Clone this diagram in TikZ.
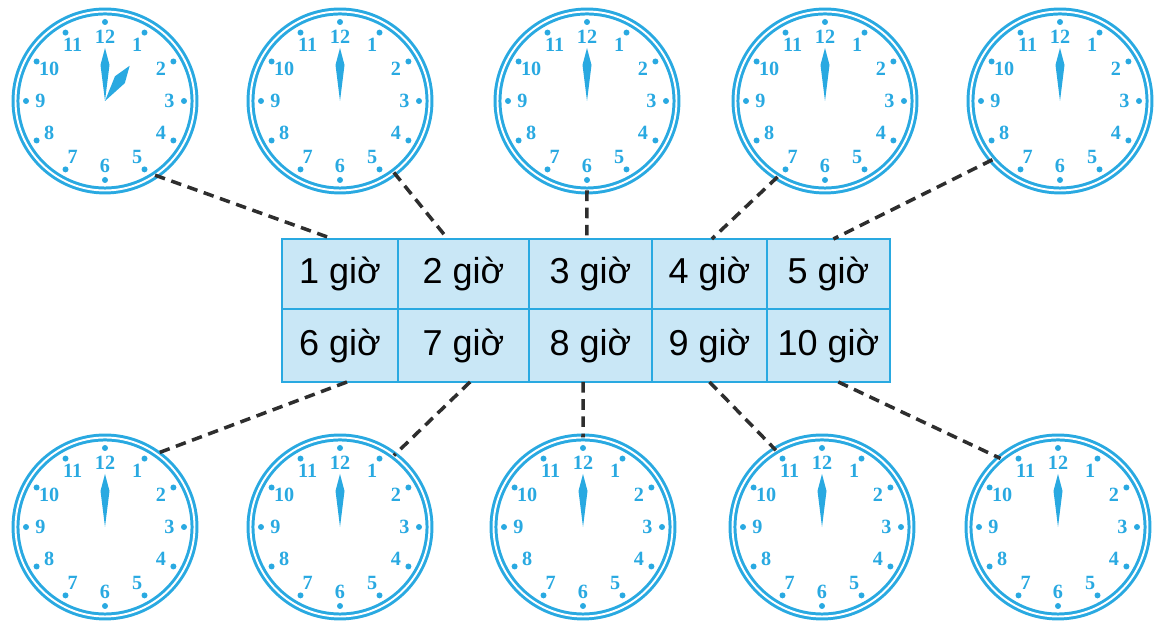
\documentclass[tikz,border=0pt]{standalone}
\usepackage{fontspec}
\setmainfont{Liberation Sans}
\newfontfamily\clockfont{Liberation Serif}
\usepackage{tikz}
\usetikzlibrary{positioning, calc}
\usepackage{xcolor}
\definecolor{clockBlue}{HTML}{29A9E1}
\definecolor{cellFill}{HTML}{C9E7F6}
\definecolor{lineDark}{HTML}{2E2E2E}

\begin{document}
\begin{tikzpicture}[
    font=\fontsize{20.5}{24}\selectfont,
    cell/.style={
      rectangle, draw=clockBlue, line width=1.2pt,
      fill=cellFill, align=center, outer sep=0pt,
      minimum height=1.40cm, inner sep=0pt
    },
    clock/.style={
      circle, draw=clockBlue, line width=1.7pt,
      double=white, double distance=1.1pt,
      minimum size=3.58cm, outer sep=0pt, inner sep=0pt
    },
    hournum/.style={
      font=\clockfont\bfseries\fontsize{11.5}{13}\selectfont,
      text=clockBlue, inner sep=0pt
    },
    arrDashed/.style={lineDark, line width=2pt, dash pattern=on 6pt off 3.8pt}
  ]
  \useasboundingbox (0,0) rectangle (23.08,12.48);

  % Bảng giờ - hàng trên
  \node[cell, minimum width=2.32cm] (h1) at (6.80,7.00) {1 giờ};
  \node[cell, minimum width=2.62cm, right=0pt of h1] (h2) {2 giờ};
  \node[cell, minimum width=2.46cm, right=0pt of h2] (h3) {3 giờ};
  \node[cell, minimum width=2.30cm, right=0pt of h3] (h4) {4 giờ};
  \node[cell, minimum width=2.46cm, right=0pt of h4] (h5) {5 giờ};

  % Bảng giờ - hàng dưới
  \node[cell, minimum width=2.32cm, minimum height=1.46cm, below=0pt of h1] (r1) {6 giờ};
  \node[cell, minimum width=2.62cm, minimum height=1.46cm, below=0pt of h2] (r2) {7 giờ};
  \node[cell, minimum width=2.46cm, minimum height=1.46cm, below=0pt of h3] (r3) {8 giờ};
  \node[cell, minimum width=2.30cm, minimum height=1.46cm, below=0pt of h4] (r4) {9 giờ};
  \node[cell, minimum width=2.46cm, minimum height=1.46cm, below=0pt of h5] (r5) {10 giờ};

  % Đồng hồ
  \foreach \cn/\cx/\cy in {c1/2.10/10.46, c2/6.80/10.46, c3/11.74/10.46,
      c4/16.50/10.46, c5/21.20/10.46, d1/2.10/1.94, d2/6.80/1.94,
      d3/11.66/1.94, d4/16.44/1.94, d5/21.16/1.94} {
    \node[clock] (\cn) at (\cx,\cy) {};
    \foreach \h in {1,...,12} {
      \fill[clockBlue] ($(\cn.center)+({90-30*\h}:1.58)$) circle (0.06);
      \node[hournum] at ($(\cn.center)+({90-30*\h}:1.29)$) {\h};
    }
    % kim phút
    \fill[clockBlue] (\cn.center) -- ++(-0.09,0.72) -- ++(0.09,0.34) -- ++(0.09,-0.34) -- cycle;
  }

  % kim giờ
  \begin{scope}[shift={(c1.center)}, rotate=-35]
    \fill[clockBlue] (0,0) -- (-0.12,0.52) -- (0,0.86) -- (0.12,0.52) -- cycle;
  \end{scope}

  % Nối đồng hồ trên
  \draw[arrDashed] (c1.-56)  -- ($(h1.north west)!0.44!(h1.north east)$);
  \draw[arrDashed] (c2.-53)  -- ($(h2.north west)!0.38!(h2.north east)$);
  \draw[arrDashed] (c3.south) -- ($(h3.north west)!0.47!(h3.north east)$);
  \draw[arrDashed] (c4.-122) -- ($(h4.north west)!0.52!(h4.north east)$);
  \draw[arrDashed] (c5.-139) -- ($(h5.north west)!0.54!(h5.north east)$);

  % Nối đồng hồ dưới
  \draw[arrDashed] ($(r1.south west)!0.56!(r1.south east)$) -- (d1.55);
  \draw[arrDashed] ($(r2.south west)!0.55!(r2.south east)$) -- (d2.53);
  \draw[arrDashed] ($(r3.south west)!0.44!(r3.south east)$) -- (d3.north);
  \draw[arrDashed] ($(r4.south west)!0.50!(r4.south east)$) -- (d4.121);
  \draw[arrDashed] ($(r5.south west)!0.58!(r5.south east)$) -- (d5.130);

\end{tikzpicture}
\end{document}
